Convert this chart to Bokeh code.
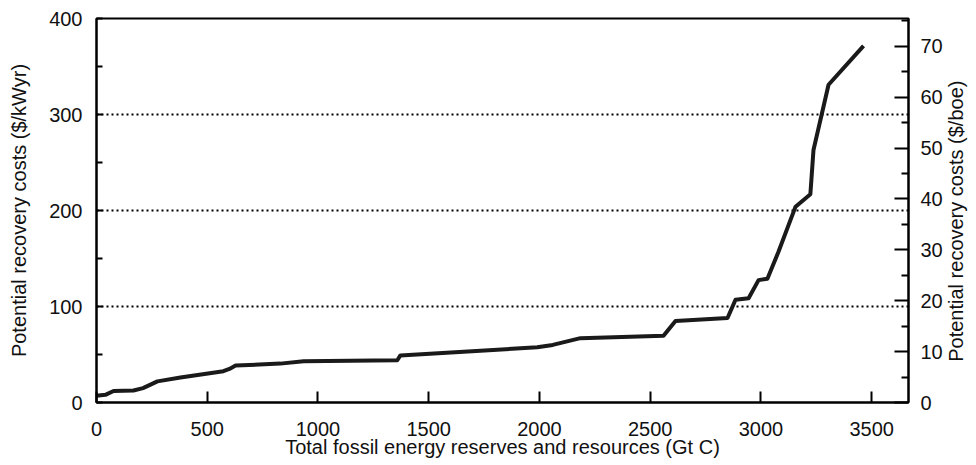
import math
from bokeh.plotting import figure
from bokeh.models import Range1d, LinearAxis, FixedTicker
from bokeh.embed import file_html
from bokeh.resources import INLINE

# Cumulative fossil reserves/resources (Gt C) vs potential recovery cost ($/kWyr)
reserves_gtc = [0, 40, 77, 167, 210, 275, 379, 573, 600, 628, 830, 935, 1358, 1372,
                1600, 1990, 2060, 2185, 2560, 2614, 2849, 2885, 2944, 2989, 3029,
                3079, 3156, 3223, 3237, 3305, 3463]
cost_kwyr = [7, 8, 12, 12.5, 15, 22, 26, 32.6, 35, 38.5, 40.5, 43, 44, 49,
             52, 57.5, 60, 67, 69.6, 85, 88, 107, 108.6, 127.5, 129,
             157, 204, 217, 263, 331, 371.5]

x_ticks = [0, 500, 1000, 1500, 2000, 2500, 3000, 3500]
y_ticks = [0, 100, 200, 300, 400]
y_minor = [50, 150, 250, 350]
grid_levels = [100, 200, 300]
boe_ticks = [0, 10, 20, 30, 40, 50, 60, 70]
boe_minor = [5, 15, 25, 35, 45, 55, 65, 75]
KWYR_PER_BOE = 5.3  # $/kWyr per $/boe as drawn

X_MAX = 3666
Y_MAX = 400
RIGHT_TITLE = "Potential recovery costs ($/boe)"
RIGHT_TITLE_AT = 8  # $/boe level where the right title starts

FONT = "Liberation Sans"
TICK_SIZE = "20px"
TITLE_SIZE = "20px"
INK = "#111111"

p = figure(width=968, height=457, frame_width=812, frame_height=384,
           min_border_left=96, min_border_right=60, min_border_top=18,
           min_border_bottom=55, output_backend="svg", toolbar_location=None,
           x_range=Range1d(0, X_MAX), y_range=Range1d(0, Y_MAX))

p.outline_line_color = "black"
p.outline_line_width = 2
p.background_fill_color = "white"
p.border_fill_color = "white"

p.xgrid.visible = False
p.ygrid.ticker = FixedTicker(ticks=grid_levels)
p.ygrid.grid_line_color = "black"
p.ygrid.grid_line_width = 2
p.ygrid.grid_line_dash = "2 3"

p.line(reserves_gtc, cost_kwyr, line_color="#1a1a1a", line_width=4, line_join="round")

# bottom axis
xa = p.xaxis[0]
xa.ticker = FixedTicker(ticks=x_ticks)
xa.axis_label = "Total fossil energy reserves and resources (Gt C)"
xa.major_tick_in = 11
xa.major_tick_out = 0
xa.minor_tick_line_color = None
xa.axis_line_width = 2
xa.major_tick_line_width = 2
xa.major_label_text_font = FONT
xa.major_label_text_font_size = TICK_SIZE
xa.major_label_text_color = INK
xa.axis_label_text_font = FONT
xa.axis_label_text_font_size = TITLE_SIZE
xa.axis_label_text_font_style = "normal"
xa.axis_label_text_color = INK
xa.axis_label_standoff = -3
xa.major_label_standoff = 19

# left axis
ya = p.yaxis[0]
ya.ticker = FixedTicker(ticks=y_ticks, minor_ticks=y_minor)
ya.axis_label = "Potential recovery costs ($/kWyr)"
ya.major_tick_in = 6
ya.major_tick_out = 0
ya.minor_tick_in = 6
ya.minor_tick_out = 0
ya.axis_line_width = 2
ya.major_tick_line_width = 2
ya.minor_tick_line_width = 2
ya.major_label_text_font = FONT
ya.major_label_text_font_size = TICK_SIZE
ya.major_label_text_color = INK
ya.axis_label_text_font = FONT
ya.axis_label_text_font_size = TITLE_SIZE
ya.axis_label_text_font_style = "normal"
ya.axis_label_text_color = INK
ya.axis_label_standoff = 16
ya.major_label_standoff = 14

# right axis in $/boe
p.extra_y_ranges = {"boe": Range1d(0, Y_MAX / KWYR_PER_BOE)}
ra = LinearAxis(y_range_name="boe")
ra.ticker = FixedTicker(ticks=boe_ticks, minor_ticks=boe_minor)
ra.major_tick_in = 14
ra.major_tick_out = 0
ra.minor_tick_in = 7
ra.minor_tick_out = 0
ra.axis_line_width = 2
ra.major_tick_line_width = 2
ra.minor_tick_line_width = 2
ra.major_label_text_font = FONT
ra.major_label_text_font_size = TICK_SIZE
ra.major_label_text_color = INK
ra.major_label_standoff = 12
p.add_layout(ra, "right")

# right axis title (reads bottom-to-top), drawn as a rotated label of a bare axis
rt = LinearAxis(y_range_name="boe")
rt.ticker = FixedTicker(ticks=[RIGHT_TITLE_AT])
rt.major_label_overrides = {RIGHT_TITLE_AT: RIGHT_TITLE}
rt.major_label_orientation = math.pi / 2
rt.axis_line_color = None
rt.major_tick_line_color = None
rt.minor_tick_line_color = None
rt.major_tick_in = 0
rt.major_tick_out = 0
rt.major_label_standoff = 11
rt.major_label_text_font = FONT
rt.major_label_text_font_size = TITLE_SIZE
rt.major_label_text_color = INK
p.add_layout(rt, "right")

open("out.html", "w").write(file_html(p, INLINE))
